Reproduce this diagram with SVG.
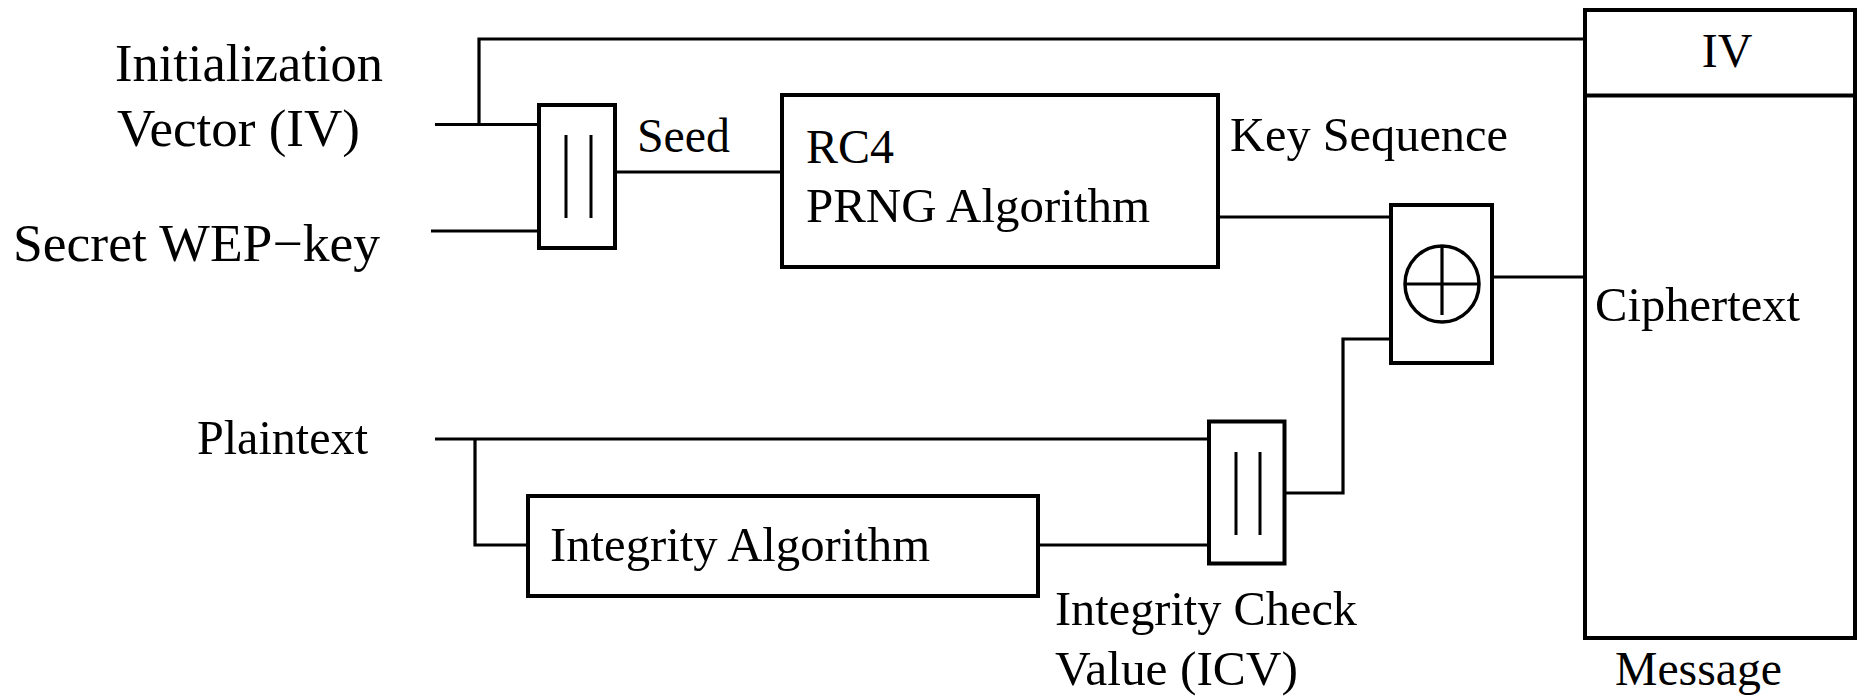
<svg xmlns="http://www.w3.org/2000/svg" width="1859" height="697" viewBox="0 0 1859 697">
<style>
.box{fill:#fff;stroke:#000;stroke-width:4}
.ln{fill:none;stroke:#000;stroke-width:3.2}
.bar{fill:none;stroke:#000;stroke-width:3}
.t{font-family:"Liberation Serif","Times New Roman",serif;font-size:48px;fill:#000}
.tl{font-family:"Liberation Serif","Times New Roman",serif;font-size:52px;fill:#000}
</style>
<rect width="1859" height="697" fill="#fff"/>
<g id="connectors">
<path class="ln" d="M479,124.5 V39 H1586"/>
<path class="ln" d="M435,124.5 H539"/>
<path class="ln" d="M431,231 H539"/>
<path class="ln" d="M615,172 H782"/>
<path class="ln" d="M1218,217 H1391"/>
<path class="ln" d="M1492,277 H1586"/>
<path class="ln" d="M1285,493 H1343 V339 H1391"/>
<path class="ln" d="M435,439 H1209"/>
<path class="ln" d="M475,439 V545 H528"/>
<path class="ln" d="M1040,545 H1209"/>
</g>
<g id="label-iv-input">
<text class="tl" x="115" y="81" textLength="268" lengthAdjust="spacingAndGlyphs">Initialization</text>
<text class="tl" x="117" y="146" textLength="243" lengthAdjust="spacingAndGlyphs">Vector (IV)</text>
</g>
<g id="label-wep">
<text class="tl" x="13" y="261" textLength="367" lengthAdjust="spacingAndGlyphs">Secret WEP−key</text>
</g>
<g id="concat1">
<rect class="box" x="539" y="105" width="76" height="143"/>
<path class="bar" d="M566,135 V218 M591,135 V218"/>
</g>
<g id="label-seed">
<text class="t" x="637" y="152" textLength="93" lengthAdjust="spacingAndGlyphs">Seed</text>
</g>
<g id="rc4">
<rect class="box" x="782" y="95" width="436" height="172"/>
<text class="t" x="806" y="163">RC4</text>
<text class="t" x="806" y="222" textLength="344" lengthAdjust="spacingAndGlyphs">PRNG Algorithm</text>
</g>
<g id="label-keyseq">
<text class="t" x="1230" y="151" textLength="278" lengthAdjust="spacingAndGlyphs">Key Sequence</text>
</g>
<g id="xor">
<rect class="box" x="1391" y="205" width="101" height="158"/>
<ellipse cx="1442" cy="284" rx="37" ry="38" fill="none" stroke="#000" stroke-width="3.5"/>
<path class="ln" d="M1405,284 H1479 M1442,246 V315"/>
</g>
<g id="message">
<rect class="box" x="1585" y="10" width="270" height="628"/>
<path class="box" d="M1587,95.5 H1855"/>
<text class="t" x="1727" y="67" text-anchor="middle">IV</text>
<text class="t" x="1595" y="321" textLength="205" lengthAdjust="spacingAndGlyphs">Ciphertext</text>
</g>
<g id="label-message">
<text class="t" x="1615" y="685" textLength="167" lengthAdjust="spacingAndGlyphs">Message</text>
</g>
<g id="label-plaintext">
<text class="t" x="197" y="454" textLength="171" lengthAdjust="spacingAndGlyphs">Plaintext</text>
</g>
<g id="integrity">
<rect class="box" x="528" y="496" width="510" height="100"/>
<text class="t" x="550" y="561" textLength="380" lengthAdjust="spacingAndGlyphs">Integrity Algorithm</text>
</g>
<g id="concat2">
<rect class="box" x="1209" y="421.5" width="75.5" height="142"/>
<path class="bar" d="M1236,452 V535 M1260,452 V535"/>
</g>
<g id="label-icv">
<text class="t" x="1055" y="625" textLength="302" lengthAdjust="spacingAndGlyphs">Integrity Check</text>
<text class="t" x="1055" y="685" textLength="243" lengthAdjust="spacingAndGlyphs">Value (ICV)</text>
</g>
</svg>
